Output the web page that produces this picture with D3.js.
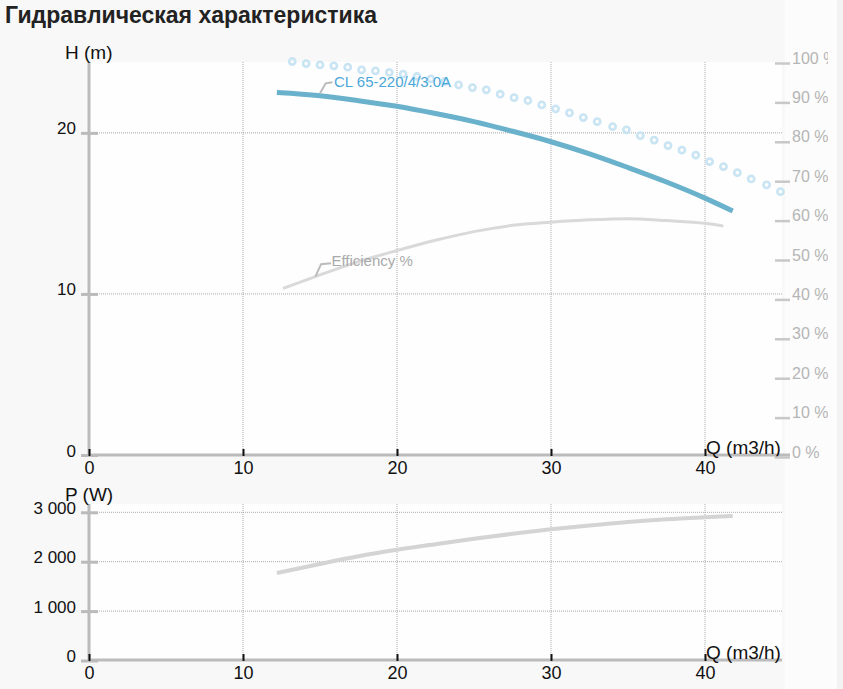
<!DOCTYPE html>
<html>
<head>
<meta charset="utf-8">
<script src="https://d3js.org/d3.v7.min.js"></script>
<style>
body{margin:0;background:#f3f3f3;font-family:Arial,"Liberation Sans",sans-serif;}
svg{display:block;}
</style>
</head>
<body>
<svg id="chart"></svg>
<script>
// Data
var flowQ=[12.2,15,17.5,20,22.5,25,27.5,30,32.5,35,37.5,40,41.8];
var head=[22.5,22.3,22.0,21.65,21.2,20.7,20.1,19.45,18.7,17.85,16.95,15.95,15.15];
var power=[1771,1955,2110,2240,2355,2465,2565,2655,2735,2805,2860,2900,2925];

var effQ=[12.6,14.7,17.5,20,22.5,25,27.5,30,32.5,35,37.5,40,41.2];
var eff=[42.8,45.8,49.6,52.4,55.0,57.2,58.8,59.6,60.2,60.5,60.0,59.3,58.6];

var ringQ=[13.2,14.1,15.0,15.9,16.8,17.7,18.6,19.5,20.4,21.3,22.2,23.1,24.0,24.9,25.8,26.7,27.6,28.5,
           29.4,30.3,31.2,32.1,33.0,34.0,34.9,35.8,36.7,37.6,38.5,39.4,40.3,41.2,42.1,43.0,44.0,44.9];
var ringH=[24.43,24.30,24.22,24.16,24.08,23.91,23.85,23.75,23.65,23.50,23.35,23.19,22.98,22.81,22.67,22.40,22.19,22.01,
           21.74,21.49,21.24,20.95,20.70,20.39,20.19,19.83,19.55,19.21,18.93,18.62,18.22,17.91,17.53,17.14,16.77,16.35];

var qTicks=[0,10,20,30,40];
var hTicks=[0,10,20];
var pctTicks=[0,10,20,30,40,50,60,70,80,90,100];
var pTicks=[0,1000,2000,3000];

var title="Гидравлическая характеристика";
var headName="CL 65-220/4/3.0A";
var effName="Efficiency %";

//Canvas setting
var svg=d3.select("#chart").attr("width",843).attr("height",689);
var top1={top:62,bottom:455}, bot={top:504,bottom:660};
var left=89, right=782;

// scales
var x=d3.scaleLinear().domain([0,45]).range([left,right]);
var yH=d3.scaleLinear().domain([0,24.4]).range([top1.bottom,top1.top]);
var yPct=d3.scaleLinear().domain([0,100]).range([457,63]);
var yP=d3.scaleLinear().domain([0,3000]).range([660.5,512.3]);

var ru=d3.formatLocale({decimal:",",thousands:"\u00a0",grouping:[3],currency:["",""]});
var fmtP=ru.format(",d");

// backgrounds
svg.append("rect").attr("x",0).attr("y",0).attr("width",837).attr("height",689).attr("fill","#f8f8f8");
svg.append("rect").attr("x",785).attr("y",0).attr("width",52).attr("height",689).attr("fill","#fcfcfc");
svg.append("rect").attr("x",left).attr("y",top1.top).attr("width",right-left).attr("height",top1.bottom-top1.top).attr("fill","#fefefe");
svg.append("rect").attr("x",left).attr("y",bot.top).attr("width",right-left).attr("height",bot.bottom-bot.top).attr("fill","#fefefe");

svg.append("text").attr("x",5).attr("y",23)
   .style("font-size","23px").style("font-weight","bold").attr("fill","#222")
   .text(title);

svg.append("defs").append("clipPath").attr("id","pctclip")
   .append("rect").attr("x",0).attr("y",0).attr("width",828).attr("height",689);

//Grid
function drawGrid(yscale,ticks,panel){
  var g=svg.append("g").attr("class","grid");
  g.selectAll(".vg").data(qTicks.slice(1)).enter().append("line")
    .attr("x1",function(d){return x(d);}).attr("x2",function(d){return x(d);})
    .attr("y1",panel.top).attr("y2",panel.bottom)
    .attr("stroke","#aaa").attr("stroke-width",1).attr("stroke-dasharray","1,1");
  g.selectAll(".hg").data(ticks.slice(1)).enter().append("line")
    .attr("x1",left).attr("x2",right)
    .attr("y1",function(d){return yscale(d);}).attr("y2",function(d){return yscale(d);})
    .attr("stroke","#aaa").attr("stroke-width",1).attr("stroke-dasharray","1,1");
}
drawGrid(yH,hTicks,top1);
drawGrid(yP,pTicks,bot);

//Axes
function drawLeftAxis(yscale,ticks,fmt,panel,label){
  svg.append("line").attr("x1",left).attr("x2",left).attr("y1",panel.top).attr("y2",panel.bottom+1)
     .attr("stroke","#bbb").attr("stroke-width",3);
  var g=svg.append("g").attr("transform","translate("+left+",0)")
     .call(d3.axisLeft(yscale).tickValues(ticks).tickFormat(fmt).tickSize(8).tickPadding(5));
  g.select(".domain").remove();
  g.selectAll(".tick line").attr("x1",9).attr("stroke","#bbb").attr("stroke-width",3);
  g.selectAll(".tick text").attr("dy",1).style("font-size","17px")
   .style("font-family","Arial,'Liberation Sans',sans-serif").attr("fill","#111");
  svg.append("text").attr("x",65).attr("y",panel.top-3).style("font-size","19px").attr("fill","#111").text(label);
}
function drawBottomAxis(panel,lineEnd){
  svg.append("line").attr("x1",left).attr("x2",lineEnd).attr("y1",panel.bottom).attr("y2",panel.bottom)
     .attr("stroke","#bbb").attr("stroke-width",3);
  var g=svg.append("g").attr("transform","translate(0,"+panel.bottom+")")
     .call(d3.axisBottom(x).tickValues(qTicks).tickSize(1).tickPadding(5.5));
  g.select(".domain").remove();
  g.selectAll(".tick line").attr("y1",-6).attr("stroke","#111").attr("stroke-width",2);
  g.selectAll(".tick text").style("font-size","18px")
   .style("font-family","Arial,'Liberation Sans',sans-serif").attr("fill","#111");
  svg.append("text").attr("x",x(40)+1).attr("y",panel.bottom-1).style("font-size","19px").attr("fill","#111").text("Q (m3/h)");
}
drawLeftAxis(yH,hTicks,d3.format("d"),top1,"H (m)");
drawBottomAxis(top1,790);
drawLeftAxis(yP,pTicks,fmtP,bot,"P (W)");
drawBottomAxis(bot,782);

// right % axis (labels clipped at the container edge)
var pg=svg.append("g").attr("clip-path","url(#pctclip)")
   .append("g").attr("transform","translate(775,0)")
   .call(d3.axisRight(yPct).tickValues(pctTicks).tickSize(15).tickPadding(2).tickFormat(function(d){return d+" %";}));
pg.select(".domain").remove();
pg.selectAll(".tick line").attr("stroke","#c8c8c8").attr("stroke-width",2.5);
pg.selectAll(".tick text").attr("dy",0).style("font-size","16px")
  .style("font-family","Arial,'Liberation Sans',sans-serif").attr("fill","#b5b5b5");

//Curves
var headLine=d3.line().x(function(d,i){return x(flowQ[i]);}).y(function(d){return yH(d);}).curve(d3.curveMonotoneX);
var powerLine=d3.line().x(function(d,i){return x(flowQ[i]);}).y(function(d){return yP(d);}).curve(d3.curveMonotoneX);
var effLine=d3.line().x(function(d,i){return x(effQ[i]);}).y(function(d){return yPct(d);}).curve(d3.curveMonotoneX);

svg.append("path").datum(eff).attr("d",effLine)
   .attr("fill","none").attr("stroke","#d9d9d9").attr("stroke-width",3).attr("stroke-linejoin","round");
svg.append("path").datum(power).attr("d",powerLine)
   .attr("fill","none").attr("stroke","#d4d4d4").attr("stroke-width",4);

svg.selectAll(".ring").data(ringH).enter().append("circle")
   .attr("class","ring")
   .attr("cx",function(d,i){return x(ringQ[i]);})
   .attr("cy",function(d){return yH(d);})
   .attr("r",3.1)
   .attr("fill","none").attr("stroke","#c9e4f2").attr("stroke-width",2.6);

svg.append("path").datum(head).attr("d",headLine)
   .attr("fill","none").attr("stroke","#6ab1cc").attr("stroke-width",5).attr("stroke-linejoin","round");

//Labels with leaders
function seriesLabel(ax,ay,pts,tx,ty,txt,color){
  svg.append("path").attr("d","M"+ax+","+ay+"L"+(ax+pts[0])+","+(ay+pts[1])+"L"+(ax+pts[2])+","+(ay+pts[3]))
     .attr("fill","none").attr("stroke","#bbb").attr("stroke-width",2);
  svg.append("text").attr("x",ax+tx).attr("y",ay+ty).style("font-size","15px").attr("fill",color).text(txt);
}
seriesLabel(x(flowQ[1]),yH(head[1])-2.5,[5.7,-10,12.4,-11],14,-6,headName,"#4ba7d8");
seriesLabel(x(effQ[1]),yPct(eff[1]),[5.7,-12.4,15.7,-13.4],16,-10.6,effName,"#aaaaaa");
</script>
</body>
</html>
